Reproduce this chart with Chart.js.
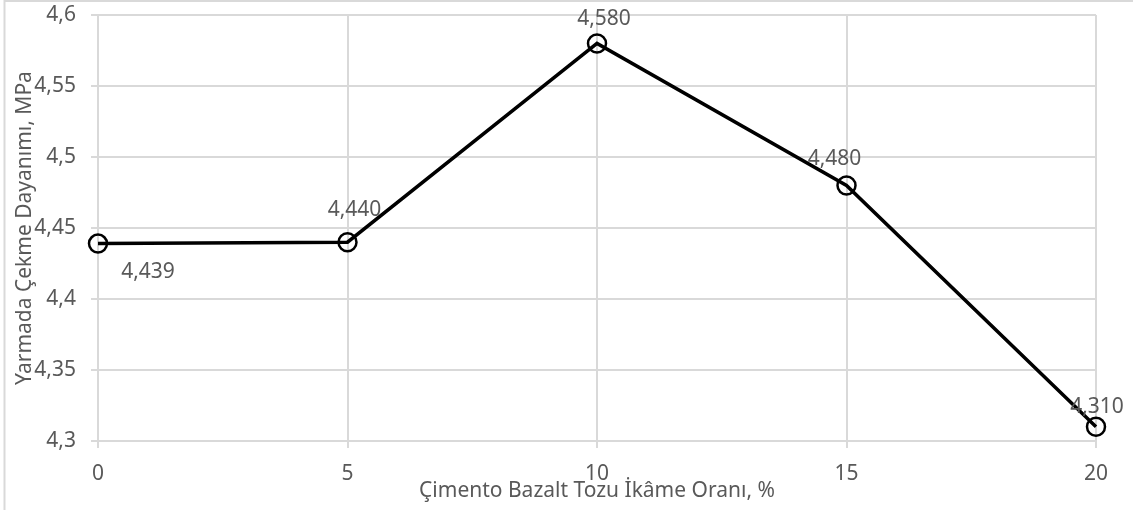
<!DOCTYPE html>
<html lang="tr">
<head>
<meta charset="utf-8">
<title>Yarmada Çekme Dayanımı</title>
<script src="https://cdn.jsdelivr.net/npm/chart.js@4.4.1/dist/chart.umd.min.js"></script>
<style>
  html, body { margin: 0; padding: 0; background: #ffffff; }
  #wrap { width: 1133px; height: 510px; position: relative; }
</style>
</head>
<body>
<div id="wrap"><canvas id="c" width="1133" height="510"></canvas></div>
<script>
// Replacement ratio of basalt powder in cement (%)
const categories = ['0', '5', '10', '15', '20'];
// Splitting tensile strength (MPa)
const strength = [4.439, 4.440, 4.580, 4.480, 4.310];
// Value label text shown next to each point
const valueLabels = ['4,439', '4,440', '4,580', '4,480', '4,310'];

const FONT = '"Noto Sans", "Open Sans", sans-serif';
const TEXT = '#595959';
const GRID = '#d9d9d9';

// Label offset (px) from each marker centre
const labelOffsets = [[50, 28], [7, -32], [7, -24], [-12, -26], [1, -20]];

const frame = {
  id: 'frame',
  beforeDraw(chart) {
    const ctx = chart.ctx;
    ctx.save();
    ctx.fillStyle = '#ffffff';
    ctx.fillRect(0, 0, chart.width, chart.height);
    ctx.strokeStyle = GRID;
    ctx.lineWidth = 2;
    ctx.beginPath();
    ctx.moveTo(4.5, chart.height);
    ctx.lineTo(4.5, 1);
    ctx.lineTo(chart.width, 1);
    ctx.stroke();
    ctx.restore();
  }
};

const pointLabels = {
  id: 'pointLabels',
  afterDatasetsDraw(chart) {
    const ctx = chart.ctx;
    const meta = chart.getDatasetMeta(0);
    ctx.save();
    ctx.font = '21px ' + FONT;
    ctx.fillStyle = TEXT;
    ctx.textAlign = 'center';
    ctx.textBaseline = 'middle';
    meta.data.forEach((pt, i) => {
      const [dx, dy] = labelOffsets[i];
      ctx.fillText(valueLabels[i], pt.x + dx, pt.y + dy);
    });
    ctx.restore();
  }
};

new Chart(document.getElementById('c'), {
  type: 'line',
  data: {
    labels: categories,
    datasets: [{
      data: strength,
      borderColor: '#000000',
      borderWidth: 3.5,
      tension: 0,
      fill: false,
      pointStyle: 'circle',
      pointRadius: 9,
      pointBorderWidth: 2.5,
      pointBorderColor: '#000000',
      pointBackgroundColor: 'rgba(0,0,0,0)'
    }]
  },
  options: {
    responsive: false,
    animation: false,
    layout: { padding: { left: 0, right: 37, top: 15, bottom: 0 } },
    plugins: {
      legend: { display: false },
      tooltip: { enabled: false }
    },
    scales: {
      x: {
        type: 'category',
        offset: false,
        afterFit(scale) { scale.height = 69; scale.paddingLeft = 0; scale.paddingRight = 0; },
        grid: { color: GRID, lineWidth: 2, tickLength: 7, drawTicks: true },
        border: { color: GRID, width: 2 },
        ticks: { color: TEXT, font: { family: FONT, size: 21 }, padding: 13, maxRotation: 0 },
        title: {
          display: true,
          text: 'Çimento Bazalt Tozu İkâme Oranı, %',
          color: TEXT,
          font: { family: FONT, size: 21 },
          padding: { top: 0, bottom: 6 }
        }
      },
      y: {
        min: 4.3,
        max: 4.6,
        afterFit(scale) { scale.width = 98; scale.paddingTop = 0; scale.paddingBottom = 0; },
        grid: { color: GRID, lineWidth: 2, tickLength: 7, drawTicks: true },
        border: { color: GRID, width: 2 },
        ticks: {
          stepSize: 0.05,
          color: TEXT,
          font: { family: FONT, size: 21 },
          padding: 15,
          callback: (v) => String(Math.round(v * 100) / 100).replace('.', ',')
        },
        title: {
          display: true,
          text: 'Yarmada Çekme Dayanımı, MPa',
          color: TEXT,
          font: { family: FONT, size: 21 },
          padding: { top: 12, bottom: 0 }
        }
      }
    }
  },
  plugins: [frame, pointLabels]
});
</script>
</body>
</html>
